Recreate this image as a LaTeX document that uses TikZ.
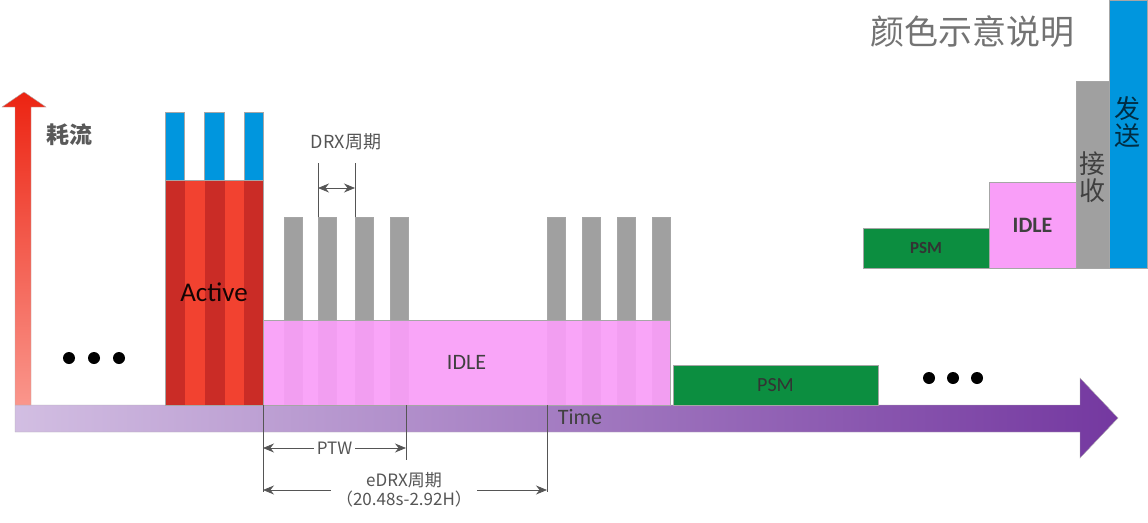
\documentclass[tikz,border=0pt]{standalone}
\usepackage{fontspec}
\setmainfont{Carlito}
\newfontfamily\cjk{Noto Sans CJK SC}
\usepackage{xcolor}
\usetikzlibrary{arrows.meta, positioning, calc}

\definecolor{psmgreen}{RGB}{12,142,64}
\definecolor{idlepink}{RGB}{249,158,248}
\definecolor{rxgrey}{RGB}{160,160,160}
\definecolor{txblue}{RGB}{0,150,222}
\definecolor{actred}{RGB}{242,66,48}
\definecolor{actdark}{RGB}{202,44,38}
\definecolor{timelight}{RGB}{210,190,226}
\definecolor{timedark}{RGB}{116,56,160}
\definecolor{axtop}{RGB}{236,36,18}
\definecolor{axbot}{RGB}{250,150,140}
\definecolor{dimgrey}{RGB}{85,85,85}

\begin{document}
\begin{tikzpicture}[
  x=1pt, y=-1pt,
  blk/.style={draw=black!35, line width=0.6pt, inner sep=0pt, outer sep=0pt, anchor=south west},
  psm/.style={blk, fill=psmgreen, text=black!80},
  idle/.style={blk, fill=idlepink, text=black!75},
  rx/.style={blk, fill=rxgrey},
  tx/.style={blk, fill=txblue},
  lbl/.style={font=\fontsize{22}{24}\selectfont, text=black!75},
  dimlbl/.style={font=\cjk\fontsize{17}{19}\selectfont, text=dimgrey},
  vlbl/.style={font=\cjk\fontsize{26}{27}\selectfont, align=center},
  dot/.style={circle, fill=black, inner sep=0pt, minimum size=12pt},
  dim/.style={draw=dimgrey, line width=0.8pt},
  dimarr/.style={dim, {Stealth[length=11pt,width=9pt]}-{Stealth[length=11pt,width=9pt]}},
]
\useasboundingbox (0,0) rectangle (1148,522);

% Axes
\shade[left color=timelight, right color=timedark, draw=black!30]
  (15,405) -- (1080,405) -- (1080,378) -- (1118,418) -- (1080,458) -- (1080,432) -- (15,432) -- cycle;
\shade[top color=axtop, bottom color=axbot, draw=black!30]
  (15,405) -- (15,107) -- (2,107) -- (24,92) -- (46,107) -- (31,107) -- (31,405) -- cycle;
\node[font=\cjk\bfseries\fontsize{23}{24}\selectfont, text=black!65] (current) at (69,135) {耗流};
\node[lbl] (time) at (580,417) {Time};

% Dots
\foreach \x [count=\i] in {69,94,119} \node[dot] (dl\i) at (\x,358) {};
\foreach \x [count=\i] in {929,953,977} \node[dot] (dr\i) at (\x,378) {};

% Active period
\node[blk, fill=actdark, minimum width=98pt, minimum height=225pt] (active) at (165,405) {};
\foreach \x [count=\i] in {185,224.5}
  \node[blk, draw=none, fill=actred, minimum width=19.5pt, minimum height=224pt] (as\i) at (\x,404.5) {};
\foreach \x [count=\i] in {165,204.5,244}
  \node[tx, minimum width=19.5pt, minimum height=68pt] (tx\i) at (\x,180) {};
\node[lbl, font=\fontsize{27}{29}\selectfont, text=black!90!actdark] (actlbl) at (active.center) {Active};

% Paging receptions
\foreach \x [count=\i] in {284,318,355,390}
  \node[rx, minimum width=18pt, minimum height=188pt] (rxa\i) at (\x,405) {};
\foreach \x [count=\i] in {547,582,617,652}
  \node[rx, minimum width=18pt, minimum height=188pt] (rxb\i) at (\x,405) {};

% IDLE and PSM
\node[idle, fill opacity=0.93, text opacity=1, minimum width=407pt, minimum height=85pt, lbl] (idle) at (263,405) {IDLE};
\node[psm, minimum width=205pt, minimum height=40pt, lbl, font=\fontsize{20}{22}\selectfont, text=black!80] (psm) at (673,405) {PSM};

% DRX cycle
\coordinate (drxL) at (318,163);
\coordinate (drxR) at (355,163);
\coordinate (drxA) at (318,188);
\coordinate (drxB) at (355,188);
\draw[dim] (rxa2.north west) -- (drxL);
\draw[dim] (rxa3.north west) -- (drxR);
\draw[dimarr] (drxA) -- (drxB);
\node[dimlbl, font=\cjk\fontsize{18}{20}\selectfont] (drx) at (346,142) {DRX周期};

% PTW and eDRX cycle
\coordinate (ptwS) at (263,492);
\coordinate (ptwE) at (406,460);
\coordinate (edrxE) at (547,492);
\coordinate (ptwA) at (263,448);
\coordinate (ptwB) at (406,448);
\coordinate (edrxA) at (263,490);
\coordinate (edrxB) at (547,490);
\draw[dim] (idle.south west) -- (ptwS);
\draw[dim] (406,405) -- (ptwE);
\draw[dim] (rxb1.south west) -- (edrxE);
\draw[dimarr] (ptwA) -- (ptwB) node[midway, dimlbl, fill=white, inner sep=3pt] (ptw) {PTW};
\draw[dimarr] (edrxA) -- (edrxB);
\node[dimlbl, fill=white, align=center, inner sep=5pt] (edrx) at (404,490) {eDRX周期\\（20.48s-2.92H）};

% Colour key
\node[font=\cjk\fontsize{34}{36}\selectfont, text=black!55] (keytitle) at (972,32) {颜色示意说明};
\node[psm, minimum width=126pt, minimum height=40pt, font=\bfseries\fontsize{17}{19}\selectfont] (keypsm) at (863,268) {PSM};
\node[idle, minimum width=87pt, minimum height=86pt, font=\bfseries\fontsize{22}{24}\selectfont] (keyidle) at (989,268) {IDLE};
\node[rx, minimum width=33pt, minimum height=187pt] (keyrx) at (1076,268) {};
\node[tx, minimum width=38pt, minimum height=268pt] (keytx) at (1109,268) {};
\node[vlbl, text=black!75] (keyrxlbl) at (1092,177) {接\\收};
\node[vlbl, text=black!70!txblue] (keytxlbl) at (1127,122) {发\\送};

\end{tikzpicture}
\end{document}
